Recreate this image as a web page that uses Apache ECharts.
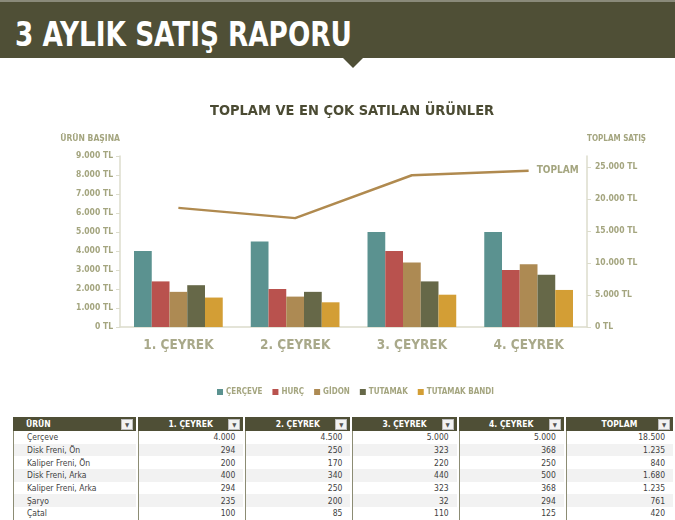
<!DOCTYPE html>
<html lang="tr">
<head>
<meta charset="UTF-8">
<title>3 Aylık Satış Raporu</title>
<script src="https://cdn.jsdelivr.net/npm/echarts@6/dist/echarts.min.js"></script>
<style>
	body { margin: 0; width: 675px; height: 520px; overflow: hidden; background: #fff; position: relative;
		font-family: "Liberation Sans Narrow", "DejaVu Sans Condensed", Roboto, sans-serif; }
	#baslik { position: absolute; left: 0; top: 0; width: 675px; height: 58px; background: #4f4f36;
		border-top: 2px solid #8a8a7a; box-sizing: border-box; }
	#baslik span { position: absolute; left: 15px; top: 12px; color: #fff; font-size: 34px; font-weight: bold;
		transform: scaleX(0.86); transform-origin: left top; white-space: nowrap; }
	#ok { position: absolute; left: 343px; top: 58px; width: 0; height: 0;
		border-left: 10px solid transparent; border-right: 10px solid transparent; border-top: 10px solid #4f4f36; }
	#main { position: absolute; left: 0; top: 58px; width: 675px; height: 352px; }
	#tablo { position: absolute; left: 13px; top: 417px; border-collapse: separate; border-spacing: 0; table-layout: fixed; font-size: 8.5px; }
	#tablo th { background: #4f4f36; color: #fff; font-weight: bold; height: 14px; padding: 0 4px; position: relative;
		border-right: 2px solid #fff; text-align: center; }
	#tablo th:first-child { text-align: left; padding-left: 13px; }
	#tablo th i { position: absolute; right: 3px; top: 2px; width: 10px; height: 9px; background: #f2f2f2; border: 1px solid #bbb;
		font-style: normal; font-size: 6px; color: #555; line-height: 9px; text-align: center; }
	#tablo td { height: 12.7px; padding: 0 8px; color: #3f3f3f; text-align: right; border-right: 2px solid #fff;
		border-left: 1px solid #8c8c74; line-height: 12px; }
	#tablo td:first-child { text-align: left; padding-left: 13px; }
	#tablo tr:nth-child(odd) td { background: #f2f2f2; }
</style>
</head>
<body>
<div id="baslik"><span>3 AYLIK SATIŞ RAPORU</span></div>
<div id="ok"></div>
<div id="main"></div>
<table id="tablo"></table>
<script type="text/javascript">
	// grafik verileri
	var ceyrekler = ['1. ÇEYREK', '2. ÇEYREK', '3. ÇEYREK', '4. ÇEYREK'];
	var urunler = ['ÇERÇEVE', 'HURÇ', 'GİDON', 'TUTAMAK', 'TUTAMAK BANDI'];
	var cerceve = [4000, 4500, 5000, 5000];
	var hurc = [2400, 2000, 4000, 3000];
	var gidon = [1850, 1600, 3400, 3300];
	var tutamak = [2200, 1850, 2400, 2750];
	var tutamakBandi = [1550, 1300, 1700, 1950];
	var toplam = [18600, 17000, 23700, 24400];

	// tablo verileri
	var tabloBasliklari = ['ÜRÜN', '1. ÇEYREK', '2. ÇEYREK', '3. ÇEYREK', '4. ÇEYREK', 'TOPLAM'];
	var tabloUrunler = ['Çerçeve', 'Disk Freni, Ön', 'Kaliper Freni, Ön', 'Disk Freni, Arka', 'Kaliper Freni, Arka', 'Şaryo', 'Çatal'];
	var tabloQ1 = [4000, 294, 200, 400, 294, 235, 100];
	var tabloQ2 = [4500, 250, 170, 340, 250, 200, 85];
	var tabloQ3 = [5000, 323, 220, 440, 323, 32, 110];
	var tabloQ4 = [5000, 368, 250, 500, 368, 294, 125];
	var tabloToplam = [18500, 1235, 840, 1680, 1235, 761, 420];

	var renkler = ['#5b9290', '#b9524e', '#ad8a53', '#666848', '#d39e35'];
	var yaziFont = '"Liberation Sans Narrow", "DejaVu Sans Condensed", Roboto, sans-serif';

	function nokta(v) {
		return String(v).replace(/\B(?=(\d{3})+(?!\d))/g, '.');
	}

	function tabloyuCiz() {
		var genislik = [126, 108, 108, 107, 108, 110];
		var html = '<colgroup>';
		for (var i = 0; i < genislik.length; i++) {
			html += '<col style="width:' + genislik[i] + 'px">';
		}
		html += '</colgroup><tr>';
		for (var i = 0; i < tabloBasliklari.length; i++) {
			html += '<th>' + tabloBasliklari[i] + '<i>&#9660;</i></th>';
		}
		html += '</tr>';
		for (var r = 0; r < tabloUrunler.length; r++) {
			html += '<tr><td>' + tabloUrunler[r] + '</td><td>' + nokta(tabloQ1[r]) + '</td><td>' + nokta(tabloQ2[r]) +
				'</td><td>' + nokta(tabloQ3[r]) + '</td><td>' + nokta(tabloQ4[r]) + '</td><td>' + nokta(tabloToplam[r]) + '</td></tr>';
		}
		document.getElementById('tablo').innerHTML = html;
	}

	function grafigiCiz() {
		var myChart = echarts.init(document.getElementById('main'));
		var veriler = [cerceve, hurc, gidon, tutamak, tutamakBandi];
		var seriler = [];
		for (var i = 0; i < urunler.length; i++) {
			seriler.push({
				name: urunler[i],
				type: 'bar',
				data: veriler[i],
				barGap: '0%',
				barCategoryGap: '24%',
				itemStyle: { color: renkler[i] }
			});
		}
		// toplam satış çizgisi sağ eksende
		seriler.push({
			name: 'TOPLAM',
			type: 'line',
			yAxisIndex: 1,
			data: toplam,
			symbol: 'none',
			lineStyle: { color: '#b08a4f', width: 2.5 },
			itemStyle: { color: '#b08a4f' },
			endLabel: {
				show: true,
				formatter: 'TOPLAM',
				color: '#a4a57f',
				fontSize: 10,
				fontWeight: 'bold',
				fontFamily: yaziFont,
				distance: 8
			}
		});

		var eksenYazi = { color: '#a4a57f', fontSize: 8.5, fontWeight: 'bold', fontFamily: yaziFont };
		var option = {
			animation: false,
			title: {
				text: 'TOPLAM VE EN ÇOK SATILAN ÜRÜNLER',
				left: 205,
				top: 41,
				textStyle: { color: '#4b4b33', fontSize: 14.5, fontWeight: 'bold', fontFamily: yaziFont }
			},
			legend: {
				data: urunler,
				top: 325,
				left: 212,
				icon: 'rect',
				itemWidth: 6,
				itemHeight: 6,
				itemGap: 10,
				textStyle: { color: '#a4a57f', fontSize: 8, fontWeight: 'bold', fontFamily: yaziFont, padding: [0, 0, 0, -2] }
			},
			grid: { left: 120, right: 88, top: 98, bottom: 83 },
			xAxis: {
				type: 'category',
				data: ceyrekler,
				axisLine: { lineStyle: { color: '#dcdccc', width: 1.5 } },
				axisTick: { show: false },
				axisLabel: { color: '#a9a98a', fontSize: 13.5, fontWeight: 'bold', margin: 11, fontFamily: yaziFont }
			},
			yAxis: [{
				type: 'value',
				name: 'ÜRÜN BAŞINA',
				nameLocation: 'end',
				nameGap: 13,
				nameTextStyle: { color: '#a4a57f', fontSize: 8.5, fontWeight: 'bold', fontFamily: yaziFont, align: 'right' },
				min: 0,
				max: 9000,
				interval: 1000,
				axisLine: { show: true, lineStyle: { color: '#dcdccc', width: 1.5 } },
				axisTick: { show: true, length: 4, lineStyle: { color: '#dcdccc' } },
				splitLine: { show: false },
				axisLabel: Object.assign({ margin: 7, formatter: function(v) { return nokta(v) + ' TL'; } }, eksenYazi)
			}, {
				type: 'value',
				name: 'TOPLAM SATIŞ',
				nameLocation: 'end',
				nameGap: 13,
				nameTextStyle: { color: '#a4a57f', fontSize: 8, fontWeight: 'bold', fontFamily: yaziFont, align: 'left' },
				min: 0,
				max: 26700,
				interval: 5000,
				axisLine: { show: true, lineStyle: { color: '#dcdccc', width: 1.5 } },
				axisTick: { show: true, length: 4, lineStyle: { color: '#dcdccc' } },
				splitLine: { show: false },
				axisLabel: Object.assign({ margin: 8, showMaxLabel: false, formatter: function(v) { return nokta(v) + ' TL'; } }, eksenYazi)
			}],
			series: seriler
		};
		myChart.setOption(option);
	}

	tabloyuCiz();
	grafigiCiz();
</script>
</body>
</html>
